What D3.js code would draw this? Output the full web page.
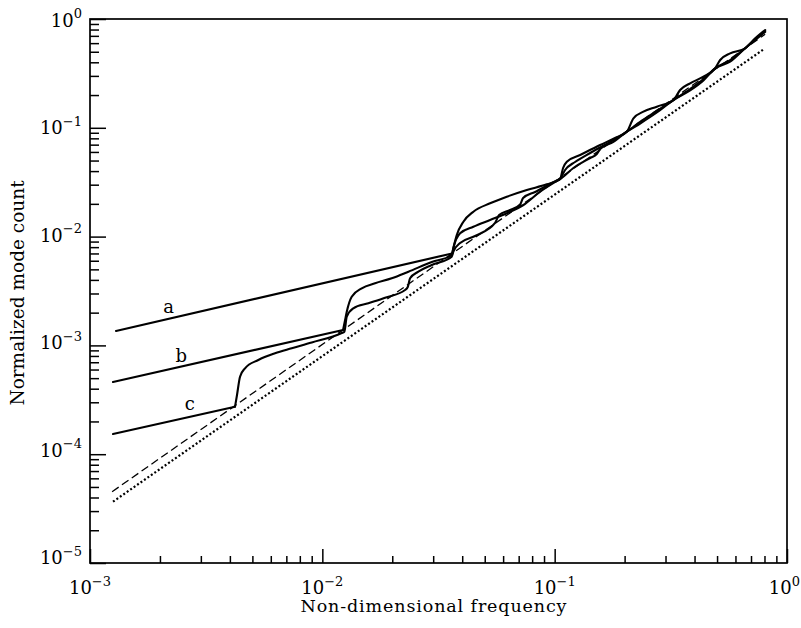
<!DOCTYPE html>
<html><head><meta charset="utf-8">
<script src="https://cdn.jsdelivr.net/npm/d3@7"></script>
<style>
body{margin:0;background:#fff;}
svg{display:block;}
text{font-family:"DejaVu Serif","Liberation Serif",serif;fill:#000;}
</style>
</head><body>
<svg id="chart" width="801" height="628"></svg>
<script>
// ---- data ----
const xExponents = [-3, -2, -1, 0];
const yExponents = [0, -1, -2, -3, -4, -5];
const xTitle = "Non-dimensional frequency";
const yTitle = "Normalized mode count";

// curve a: [frequency, normalized mode count]
const curveA = [[1.294e-3,1.357e-3],[0.03617,7.0e-3],[0.0369,8.37e-3],[0.0379,0.01034],[0.04047,0.01371],
  [0.04468,0.01694],[0.05272,0.02023],[0.06221,0.02327],[0.07586,0.02682],[0.0925,0.03025],[0.1055,0.03384],
  [0.1087,0.04272],[0.1128,0.0488],[0.1287,0.05623],[0.1569,0.06948],[0.182,0.08058],[0.2044,0.09209],
  [0.2183,0.1223],[0.241,0.1406],[0.2752,0.1562],[0.3245,0.1801],[0.3467,0.2226],[0.3828,0.2564],
  [0.4368,0.2949],[0.4905,0.3522],[0.5156,0.4199],[0.5691,0.4838],[0.6605,0.5378],[0.7168,0.6412],[0.8052,0.792]];
// curve b
const curveB = [[1.256e-3,4.61e-4],[0.01228,1.385e-3],[0.01253,1.712e-3],[0.01274,2.04e-3],[0.01338,2.804e-3],
  [0.01478,3.347e-3],[0.01686,3.722e-3],[0.01989,4.137e-3],[0.02347,4.757e-3],[0.02958,5.843e-3],[0.03617,6.775e-3],
  [0.03664,7.806e-3],[0.03917,0.01073],[0.04468,0.01233],[0.05272,0.01421],[0.06221,0.01638],[0.07336,0.01952],
  [0.08658,0.02587],[0.1021,0.03244],[0.1055,0.03384],[0.1109,0.04095],[0.1224,0.0485],[0.1421,0.05866],
  [0.1732,0.07407],[0.2044,0.09209],[0.2333,0.1131],[0.2752,0.1427],[0.3245,0.1801],[0.3828,0.2273],
  [0.4368,0.2809],[0.4905,0.3522],[0.5691,0.4199],[0.6605,0.5378],[0.7168,0.6278],[0.8052,0.7757]];
// curve c
const curveC = [[1.256e-3,1.533e-4],[4.209e-3,2.733e-4],[4.293e-3,3.501e-4],[4.423e-3,5.158e-4],[4.648e-3,6.16e-4],
  [5.303e-3,7.342e-4],[6.256e-3,8.463e-4],[7.383e-3,9.406e-4],[9.003e-3,1.063e-3],[0.01212,1.3e-3],[0.01244,1.337e-3],
  [0.01274,1.835e-3],[0.0136,2.193e-3],[0.01578,2.438e-3],[0.01862,2.745e-3],[0.0227,3.229e-3],[0.02332,3.441e-3],
  [0.02386,4.137e-3],[0.0259,4.757e-3],[0.02958,5.483e-3],[0.03606,6.536e-3],[0.03664,7.296e-3],[0.03917,8.733e-3],
  [0.04544,0.01013],[0.0554,0.01334],[0.05764,0.01579],[0.06428,0.01756],[0.07099,0.01973],[0.07312,0.02263],
  [0.08236,0.0257],[0.1021,0.03278],[0.1055,0.03384],[0.1204,0.04272],[0.1421,0.05278],[0.1518,0.05743],
  [0.1569,0.06386],[0.179,0.07407],[0.2044,0.09209],[0.2333,0.1095],[0.2752,0.1382],[0.3245,0.1801],
  [0.3828,0.2202],[0.4368,0.2721],[0.4905,0.3522],[0.5691,0.405],[0.6605,0.5378],[0.8052,0.7595]];
// reference asymptotes
const dashedLine = [[1.245e-3,4.52e-5],[0.8052,0.7236]];
const dottedLine = [[1.256e-3,3.66e-5],[0.797,0.53]];
// curve labels: [text, frequency, count]
const curveLabels = [["a",2.18e-3,1.99e-3],["b",2.47e-3,7.08e-4],["c",2.69e-3,2.55e-4]];

// ---- drawing ----
const svg = d3.select("#chart");
const L = 90, R = 787, T = 19, B = 563;
const x = d3.scaleLog().domain([1e-3, 1]).range([L, R]);
const y = d3.scaleLog().domain([1e-5, 1]).range([B, T]);

const minorOf = exps => {
  const out = [];
  exps.forEach(e => { for (let m = 2; m <= 9; m++) out.push(m * Math.pow(10, e)); });
  return out;
};
const xMinor = minorOf([-3, -2, -1]);
const yMinor = minorOf([-5, -4, -3, -2, -1]);
const xMajor = xExponents.map(e => Math.pow(10, e));
const yMajor = yExponents.map(e => Math.pow(10, e));

function styleAxis(g) {
  g.select(".domain").remove();
  g.selectAll(".tick line").attr("stroke", "#000").attr("stroke-width", 1.5);
}
svg.append("g").attr("transform", `translate(0,${B})`)
  .call(d3.axisBottom(x).tickValues(xMinor).tickSize(-7).tickFormat("")).call(styleAxis);
svg.append("g").attr("transform", `translate(0,${B})`)
  .call(d3.axisBottom(x).tickValues(xMajor).tickSize(-14).tickFormat("")).call(styleAxis);
svg.append("g").attr("transform", `translate(${L},0)`)
  .call(d3.axisLeft(y).tickValues(yMinor).tickSize(-9).tickFormat("")).call(styleAxis);
svg.append("g").attr("transform", `translate(${L},0)`)
  .call(d3.axisLeft(y).tickValues(yMajor).tickSize(-16).tickFormat("")).call(styleAxis);

// frame
svg.append("rect").attr("x", L).attr("y", T).attr("width", R - L).attr("height", B - T)
  .attr("fill", "none").attr("stroke", "#000").attr("stroke-width", 1.7);

// tick labels
function powLabel(sel, e) {
  sel.append("tspan").text("10").attr("font-size", 18);
  sel.append("tspan").text(e < 0 ? "\u2212" + (-e) : String(e)).attr("font-size", 13).attr("dy", -8.5);
}
xExponents.forEach(e => {
  const px = x(Math.pow(10, e));
  const t = svg.append("text").attr("y", 594);
  if (px > 775) t.attr("x", 800).attr("text-anchor", "end");
  else t.attr("x", px).attr("text-anchor", "middle");
  powLabel(t, e);
});
yExponents.forEach(e => {
  const k = -e;
  const t = svg.append("text").attr("x", 82).attr("y", y(Math.pow(10, e)) + 7.7 - 1.34 * k).attr("text-anchor", "end");
  powLabel(t, e);
});

// axis titles
svg.append("text").attr("x", 433.5).attr("y", 612).attr("text-anchor", "middle").attr("font-size", 17.5)
  .attr("textLength", 266).attr("lengthAdjust", "spacing").text(xTitle);
svg.append("text").attr("transform", "translate(24,293) rotate(-90)").attr("text-anchor", "middle")
  .attr("font-size", 18.5).text(yTitle);

// lines
const smooth = d3.line().x(d => x(d[0])).y(d => y(d[1])).curve(d3.curveMonotoneX);
const straight = d3.line().x(d => x(d[0])).y(d => y(d[1]));
svg.append("path").datum(dottedLine).attr("d", straight).attr("fill", "none")
  .attr("stroke", "#000").attr("stroke-width", 2.2).attr("stroke-dasharray", "2,2.2");
svg.append("path").datum(dashedLine).attr("d", straight).attr("fill", "none")
  .attr("stroke", "#000").attr("stroke-width", 1.3).attr("stroke-dasharray", "8,4");
[curveA, curveB, curveC].forEach(c => {
  // low-frequency branch is a straight line up to the first cut-on; the rest is smooth
  svg.append("path").datum(c.slice(0, 2)).attr("d", straight).attr("fill", "none")
    .attr("stroke", "#000").attr("stroke-width", 2.1).attr("stroke-linecap", "round");
  svg.append("path").datum(c.slice(1)).attr("d", smooth).attr("fill", "none")
    .attr("stroke", "#000").attr("stroke-width", 2.1).attr("stroke-linejoin", "round").attr("stroke-linecap", "round");
});

// curve labels
curveLabels.forEach(([t, f, v]) => {
  svg.append("text").attr("x", x(f)).attr("y", y(v)).attr("text-anchor", "middle").attr("font-size", 18).text(t);
});
</script>
</body></html>
